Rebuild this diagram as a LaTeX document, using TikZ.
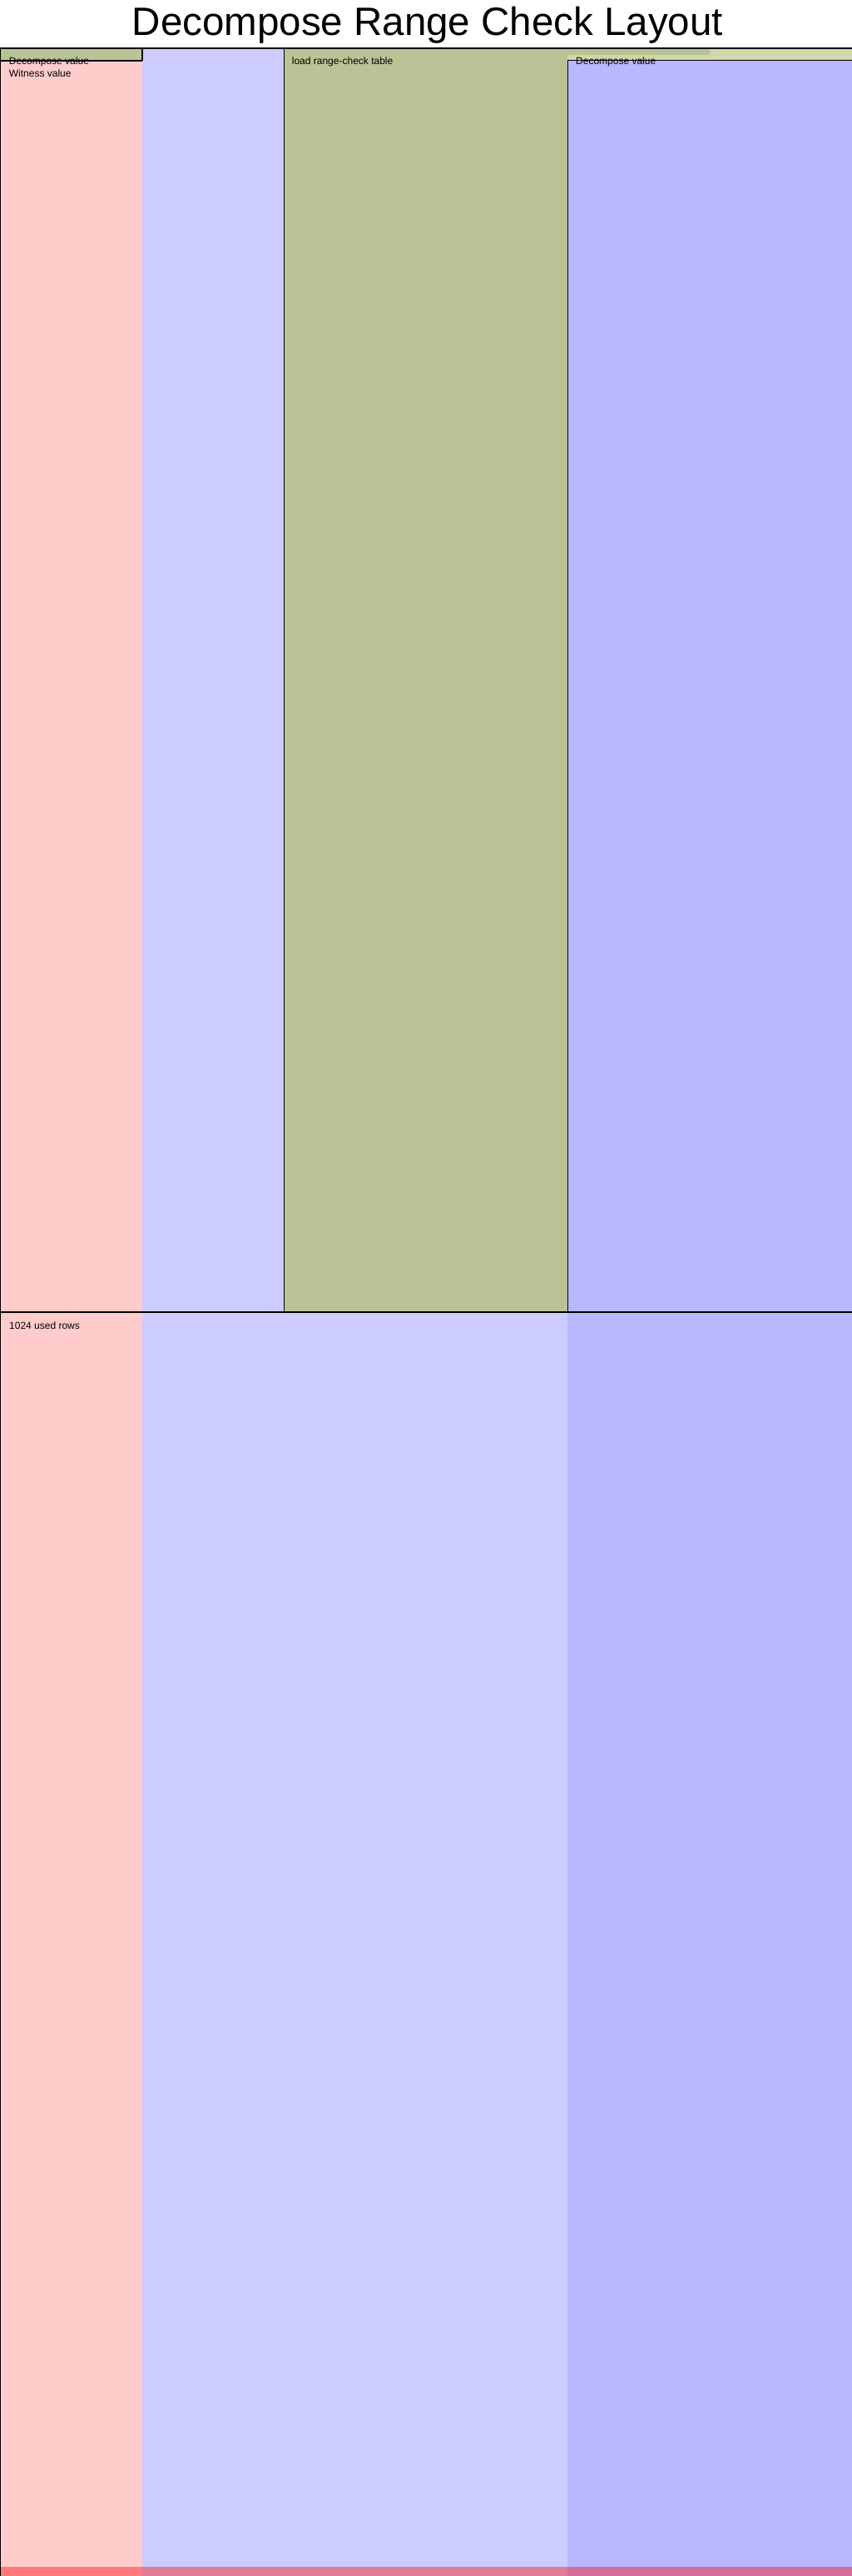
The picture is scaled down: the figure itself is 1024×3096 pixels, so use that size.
\documentclass[tikz,border=0pt]{standalone}
\usepackage{fontspec}
\setmainfont{Liberation Sans}
\definecolor{advpink}{HTML}{FFCCCC}
\definecolor{fixlav}{HTML}{CCCCFF}
\definecolor{selblue}{HTML}{B8B8FF}
\definecolor{regolive}{HTML}{B9C396}
\definecolor{reglight}{HTML}{CFD7A4}
\tikzset{
  regbox/.style={fill=regolive, draw=black, line width=1.1pt},
  edge/.style={draw=black, line width=1.1pt},
  lbl/.style={inner sep=0pt, anchor=base west, font=\fontsize{12}{14}\selectfont},
  ttl/.style={inner sep=0pt, anchor=base, font=\fontsize{47.5}{50}\selectfont}
}
\begin{document}
\begin{tikzpicture}[x=1pt,y=-1pt]
\useasboundingbox (0,0) rectangle (1024,3096);
% column backgrounds
\fill[advpink] (0,58) rectangle (171,3096);
\fill[fixlav] (171,58) rectangle (682,3096);
\fill[selblue] (682,58) rectangle (1024,3096);
% unusable rows
\fill[red, opacity=0.4] (0,3085) rectangle (1024,3096);
% regions
\draw[regbox] (0,58) rectangle (171,72.3);
\draw[edge] (0,73.8) -- (171,73.8);
\draw[regbox] (341.5,58) rectangle (682.3,1577);
\fill[reglight] (682.3,58) rectangle (1024,72.3);
\fill[regolive] (682.3,58) rectangle (853,65.7);
\draw[black!15, line width=0.6pt] (853,68.3) -- (1024,68.3);
\draw[edge] (682.3,72.3) -- (1024,72.3);
% outlines
\draw[edge] (0,58) -- (1024,58);
\draw[edge] (0.5,58) -- (0.5,3096);
\draw[edge] (0,1577) -- (1024,1577);
% texts
\node[ttl] (title) at (514,42.7) {Decompose Range Check Layout};
\node[lbl] (dv1) at (10.7,77.7) {Decompose value};
\node[lbl] (wv) at (10.7,92.3) {Witness value};
\node[lbl] (lt) at (350.7,78) {load range-check table};
\node[lbl] (dv2) at (692,77.7) {Decompose value};
\node[lbl] (ur) at (11,1597.3) {1024 used rows};
\end{tikzpicture}
\end{document}
